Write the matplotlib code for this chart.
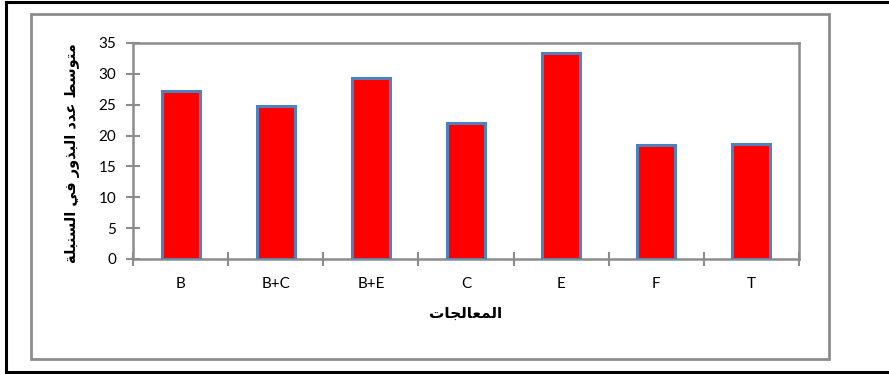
import matplotlib
matplotlib.use("Agg")
import matplotlib.pyplot as plt
from matplotlib.lines import Line2D
from matplotlib.patches import Rectangle

categories = ["B", "B+C", "B+E", "C", "E", "F", "T"]
values = [27.2, 24.8, 29.4, 22.0, 33.3, 18.5, 18.7]
yticks = [0, 5, 10, 15, 20, 25, 30, 35]
ylabel_text = "متوسط عدد البذور في السنبلة"
xlabel_text = "المعالجات"

# --- minimal Arabic shaping (presentation forms + visual order) ---
FORMS = {
    'ا': ('\uFE8D', '\uFE8E', None, None),
    'ب': ('\uFE8F', '\uFE90', '\uFE91', '\uFE92'),
    'ت': ('\uFE95', '\uFE96', '\uFE97', '\uFE98'),
    'ة': ('\uFE93', '\uFE94', None, None),
    'ج': ('\uFE9D', '\uFE9E', '\uFE9F', '\uFEA0'),
    'د': ('\uFEA9', '\uFEAA', None, None),
    'ذ': ('\uFEAB', '\uFEAC', None, None),
    'ر': ('\uFEAD', '\uFEAE', None, None),
    'س': ('\uFEB1', '\uFEB2', '\uFEB3', '\uFEB4'),
    'ط': ('\uFEC1', '\uFEC2', '\uFEC3', '\uFEC4'),
    'ع': ('\uFEC9', '\uFECA', '\uFECB', '\uFECC'),
    'ف': ('\uFED1', '\uFED2', '\uFED3', '\uFED4'),
    'ل': ('\uFEDD', '\uFEDE', '\uFEDF', '\uFEE0'),
    'م': ('\uFEE1', '\uFEE2', '\uFEE3', '\uFEE4'),
    'ن': ('\uFEE5', '\uFEE6', '\uFEE7', '\uFEE8'),
    'و': ('\uFEED', '\uFEEE', None, None),
    'ي': ('\uFEF1', '\uFEF2', '\uFEF3', '\uFEF4'),
}


def shape(s):
    out = []
    n = len(s)
    for i, ch in enumerate(s):
        if ch not in FORMS:
            out.append(ch)
            continue
        f = FORMS[ch]
        prev = s[i - 1] if i > 0 else None
        nxt = s[i + 1] if i < n - 1 else None
        join_prev = prev in FORMS and FORMS[prev][2] is not None
        join_next = nxt in FORMS and f[2] is not None
        if join_prev and join_next:
            out.append(f[3])
        elif join_prev:
            out.append(f[1])
        elif join_next:
            out.append(f[2])
        else:
            out.append(f[0])
    return "".join(out)[::-1]


W, H = 889, 374
fig = plt.figure(figsize=(W / 100, H / 100), dpi=100)
fig.patch.set_facecolor("white")

# outer black frame (top, left, bottom)
for xs, ys in [((6 / W, 1.0), (1 - 2 / H, 1 - 2 / H)),
               ((6 / W, 6 / W), (1 - 2 / H, 1 - 372 / H)),
               ((6 / W, 1.0), (1 - 372 / H, 1 - 372 / H))]:
    fig.add_artist(Line2D(xs, ys, transform=fig.transFigure, color="black", lw=2.2))

# gray chart-area frame
fig.add_artist(Rectangle((31 / W, 1 - 359 / H), (829 - 31) / W, (359 - 14) / H,
                         transform=fig.transFigure, fill=False,
                         edgecolor="#8c8c8c", lw=2))

ax = fig.add_axes([133 / W, 1 - 259 / H, (799 - 133) / W, (259 - 43) / H])
x = list(range(len(categories)))
ax.bar(x, values, width=0.4, color="#FF0000", edgecolor="#4F81BD", linewidth=2.2, zorder=3)

ax.set_xlim(-0.5, len(categories) - 0.5)
ax.set_ylim(0, 35)
ax.set_yticks(yticks)
ax.set_xticks(x)
ax.set_xticklabels(categories)
ax.set_xticks([i - 0.5 for i in range(len(categories) + 1)], minor=True)

for sp in ax.spines.values():
    sp.set_color("#8c8c8c")
    sp.set_linewidth(1.8)

tick_font = "Lato"
ax.tick_params(axis="y", direction="inout", length=10, width=1.5, color="#8c8c8c",
               pad=7, labelsize=11)
ax.tick_params(axis="x", which="major", length=0, pad=13, labelsize=11)
ax.tick_params(axis="x", which="minor", direction="inout", length=10, width=1.5,
               color="#8c8c8c")
for lab in ax.get_xticklabels() + ax.get_yticklabels():
    lab.set_fontfamily(tick_font)
    lab.set_color("black")

fig.text(466 / W, 1 - 313 / H, shape(xlabel_text), ha="center", va="center",
         fontsize=11, fontweight="bold", family=["DejaVu Sans"])
fig.text(73 / W, 1 - 153 / H, shape(ylabel_text), ha="center", va="center",
         rotation=90, fontsize=10.5, fontweight="bold", family=["DejaVu Sans"])

fig.savefig("out.png", dpi=100)
